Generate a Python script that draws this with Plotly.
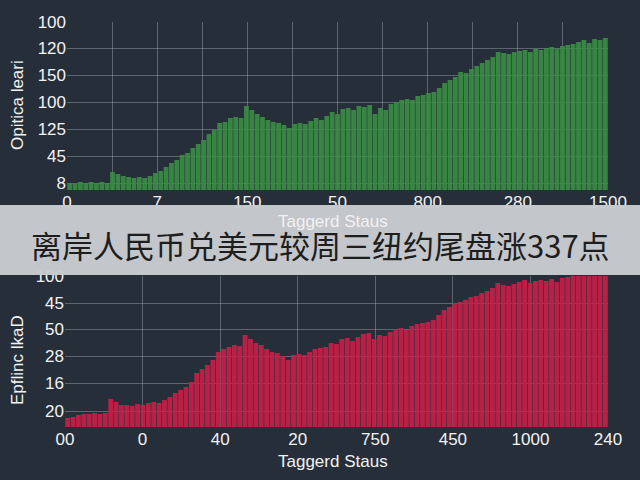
import plotly.graph_objects as go

# ---- data (bar heights, in axis units) ----
top_vals = [7, 6, 8, 7, 8, 7, 8, 7, 18, 16, 14, 13, 12, 13, 12, 14, 17,
            19, 23, 27, 30, 35, 37, 42, 46, 50, 56, 60, 67, 68, 72, 73, 72,
            84, 80, 76, 73, 70, 68, 67, 65, 62, 66, 67, 66, 69, 72, 70, 74,
            78, 76, 81, 82, 80, 84, 83, 85, 76, 82, 80, 86, 88, 90, 91, 90,
            94, 95, 97, 98, 102, 107, 110, 113, 118, 117, 121, 124, 127, 130,
            133, 138, 137, 136, 138, 139, 140, 138, 141, 140, 142, 143, 141,
            144, 145, 146, 148, 150, 147, 151, 150, 152]
bot_vals = [9, 10, 12, 13, 13, 14, 13, 14, 28, 25, 22, 22, 21, 23, 22, 24,
            25, 24, 27, 30, 34, 37, 40, 45, 54, 58, 62, 67, 75, 78, 80, 82,
            81, 92, 88, 84, 82, 78, 75, 74, 71, 67, 72, 73, 72, 75, 78, 79,
            80, 84, 83, 88, 89, 86, 90, 93, 94, 88, 92, 91, 95, 98, 99, 97,
            101, 103, 104, 105, 107, 112, 117, 120, 124, 125, 127, 130, 131,
            134, 136, 139, 144, 142, 141, 143, 145, 147, 144, 146, 147, 146,
            148, 145, 149, 150, 151, 152, 153, 151, 153, 152, 153]

top_y_ticks = ["8", "45", "125", "100", "150", "120", "100"]
top_y_pos = [7, 34, 61, 88, 115, 142, 168]
top_x_ticks = ["0", "7", "150", "50", "800", "280", "1500"]

bot_y_ticks = ["20", "16", "28", "50", "45", "100"]
bot_y_pos = [16, 44, 71, 98, 124, 151]
bot_x_ticks = ["00", "0", "40", "20", "750", "450", "1000", "240"]

title_text = "离岸人民币兑美元较周三纽约尾盘涨337点"

n = len(top_vals)
xs = list(range(n))
lo, hi = -0.5, n - 0.5
span = hi - lo

BG = "#262e39"
GRID = "rgba(160,170,180,0.45)"
FONT = "Liberation Sans"
TXT = "#f2f2f2"

fig = go.Figure()
fig.add_trace(go.Bar(x=xs, y=top_vals, marker=dict(color="rgba(58,140,68,0.92)", line=dict(width=0)),
                     xaxis="x", yaxis="y", width=0.9, showlegend=False))
fig.add_trace(go.Bar(x=xs, y=bot_vals, marker=dict(color="rgba(198,32,72,0.92)", line=dict(width=0)),
                     xaxis="x2", yaxis="y2", width=0.9, showlegend=False))

top_grid = [lo + k * span / 12 for k in range(13)]
top_text = [top_x_ticks[k // 2] if k % 2 == 0 else "" for k in range(13)]
bot_grid = [lo + k * span / 7 for k in range(8)]

axcommon = dict(showline=False, zeroline=False, gridcolor=GRID, gridwidth=1, automargin=False,
                tickfont=dict(family=FONT, size=17, color=TXT), ticks="")

fig.update_layout(
    width=640, height=480, paper_bgcolor=BG, plot_bgcolor=BG,
    margin=dict(l=0, r=0, t=0, b=0, pad=0), bargap=0.1,
    xaxis=dict(domain=[67 / 640, 608 / 640], range=[lo, hi], tickmode="array",
               tickvals=top_grid, ticktext=top_text, anchor="y", **axcommon),
    yaxis=dict(domain=[1 - 190 / 480, 1 - 22 / 480], range=[0, 168], tickmode="array",
               tickvals=top_y_pos, ticktext=top_y_ticks, anchor="x", **axcommon),
    xaxis2=dict(domain=[65 / 640, 608 / 640], range=[lo, hi], tickmode="array",
                tickvals=bot_grid, ticktext=bot_x_ticks, anchor="y2", **axcommon),
    yaxis2=dict(domain=[1 - 427 / 480, 1 - 276 / 480], range=[0, 151], tickmode="array",
                tickvals=bot_y_pos, ticktext=bot_y_ticks, anchor="x2", **axcommon),
)

fig.add_shape(type="rect", xref="paper", yref="paper", x0=0, x1=1,
              y0=1 - 275 / 480, y1=1 - 205 / 480, fillcolor="rgba(200,203,206,0.97)",
              line=dict(width=0), layer="above")

ann = [
    dict(text="Taggerd Staus", x=0.52, y=1 - 221 / 480, font=dict(size=17, color=TXT, family=FONT)),
    dict(text="Taggerd Staus", x=0.52, y=1 - 461 / 480, font=dict(size=17, color=TXT, family=FONT)),
    dict(text="Opitica leari", x=17 / 640, y=1 - 105 / 480, textangle=-90,
         font=dict(size=17, color=TXT, family=FONT)),
    dict(text="Epflinc lkaD", x=17 / 640, y=1 - 360 / 480, textangle=-90,
         font=dict(size=17, color=TXT, family=FONT)),
    dict(text=title_text, x=0.5, y=1 - 244 / 480,
         font=dict(size=31, color="#1e1e1e", family="Noto Sans CJK SC")),
]
for a in ann:
    fig.add_annotation(xref="paper", yref="paper", showarrow=False,
                       xanchor="center", yanchor="middle", **a)

fig.write_html("out.html", config={"displayModeBar": False},
               post_script="document.body.style.margin='0';document.body.style.overflow='hidden';")
